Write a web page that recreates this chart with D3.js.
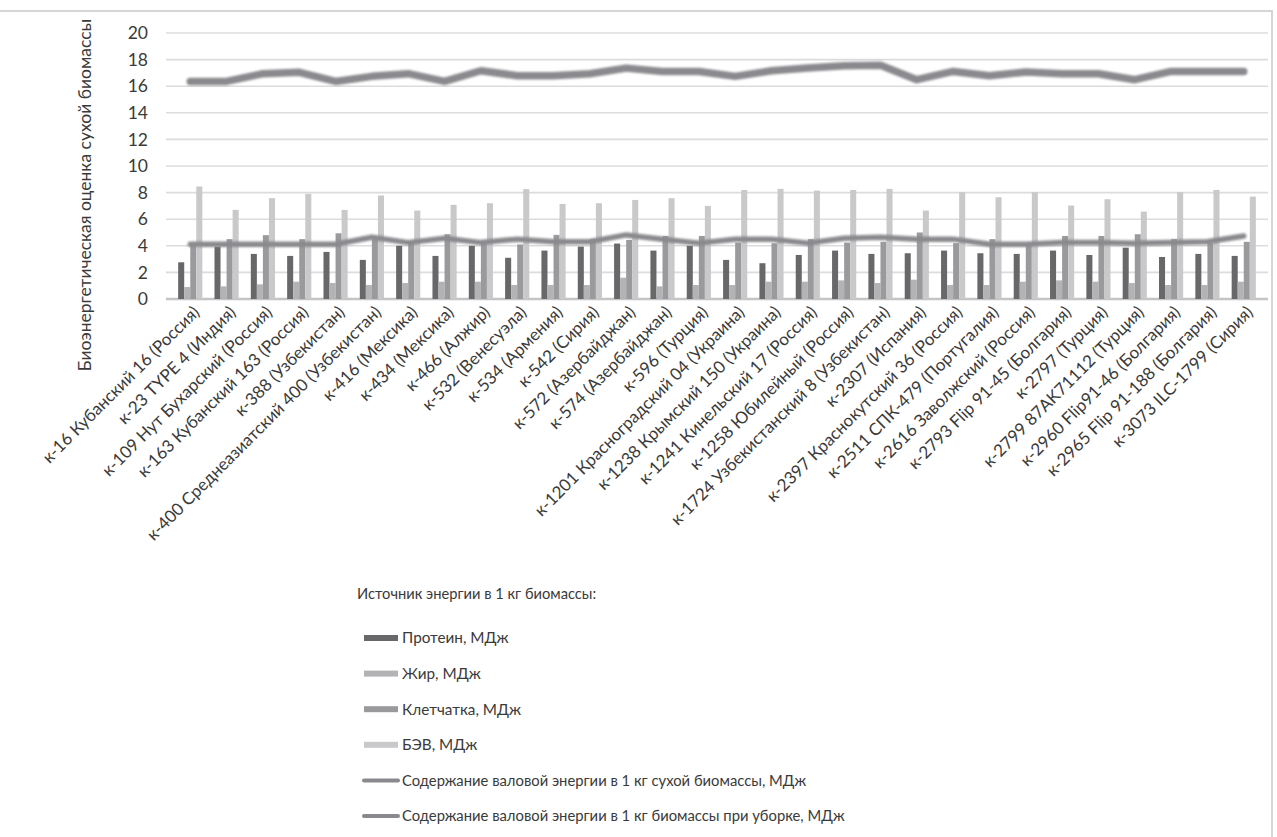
<!DOCTYPE html>
<html><head><meta charset="utf-8">
<script src="https://cdn.jsdelivr.net/npm/d3@7/dist/d3.min.js"></script>
<style>
html,body{margin:0;padding:0;background:#fff;}
svg{display:block;font-family:Lato,"Open Sans",sans-serif;}
</style></head>
<body>
<svg id="chart" width="1277" height="837"></svg>
<script>
const categories = [
 "к-16 Кубанский 16 (Россия)","к-23 TYPE 4 (Индия)","к-109 Нут Бухарский (Россия)","к-163 Кубанский 163 (Россия)",
 "к-388 (Узбекистан)","к-400 Среднеазиатский 400 (Узбекистан)","к-416 (Мексика)","к-434 (Мексика)",
 "к-466 (Алжир)","к-532 (Венесуэла)","к-534 (Армения)","к-542 (Сирия)","к-572 (Азербайджан)",
 "к-574 (Азербайджан)","к-596 (Турция)","к-1201 Красноградский 04 (Украина)","к-1238 Крымский 150 (Украина)",
 "к-1241 Кинельский 17 (Россия)","к-1258 Юбилейный (Россия)","к-1724 Узбекистанский 8 (Узбекистан)",
 "к-2307 (Испания)","к-2397 Краснокутский 36 (Россия)","к-2511 СПК-479 (Португалия)","к-2616 Заволжский (Россия)",
 "к-2793 Flip 91-45 (Болгария)","к-2797 (Турция)","к-2799 87AK71112 (Турция)","к-2960 Flip91-46 (Болгария)",
 "к-2965 Flip 91-188 (Болгария)","к-3073 ILC-1799 (Сирия)"];

const protein = [2.76,3.94,3.39,3.24,3.54,2.94,4.0,3.24,4.0,3.1,3.64,3.94,4.17,3.64,4.0,2.94,2.69,3.31,3.64,3.39,3.44,3.64,3.44,3.39,3.64,3.31,3.86,3.16,3.39,3.24];
const fat = [0.9,0.95,1.1,1.3,1.2,1.05,1.2,1.3,1.3,1.05,1.05,1.05,1.6,0.95,1.05,1.05,1.3,1.3,1.4,1.2,1.45,1.05,1.05,1.3,1.4,1.3,1.2,1.05,1.05,1.3];
const fiber = [4.2,4.5,4.8,4.5,4.94,4.5,4.3,4.87,4.2,4.1,4.82,4.5,4.44,4.74,4.74,4.24,4.19,4.5,4.24,4.3,5.0,4.2,4.5,4.1,4.74,4.74,4.87,4.5,4.2,4.3];
const nfe = [8.46,6.7,7.58,7.9,6.7,7.78,6.65,7.08,7.2,8.26,7.15,7.2,7.45,7.58,7.0,8.2,8.28,8.15,8.2,8.28,6.65,8.03,7.65,8.03,7.03,7.5,6.57,8.03,8.2,7.7];
const energyDry = [16.36,16.36,16.94,17.04,16.36,16.74,16.94,16.36,17.16,16.79,16.79,16.94,17.36,17.11,17.11,16.74,17.16,17.36,17.54,17.57,16.49,17.11,16.79,17.06,16.94,16.94,16.49,17.11,17.11,17.11];
const energyHarvest = [4.12,4.12,4.12,4.12,4.12,4.64,4.24,4.57,4.24,4.5,4.3,4.3,4.82,4.5,4.2,4.5,4.5,4.2,4.57,4.64,4.5,4.5,4.12,4.12,4.24,4.24,4.2,4.24,4.3,4.74];
const yTicks = [0,2,4,6,8,10,12,14,16,18,20];

const barSeries = [
 {name:"Протеин, МДж", values:protein, color:"#68686b"},
 {name:"Жир, МДж", values:fat, color:"#b3b3b6"},
 {name:"Клетчатка, МДж", values:fiber, color:"#9a9a9d"},
 {name:"БЭВ, МДж", values:nfe, color:"#c9c9cb"}
];
const lineSeries = [
 {name:"Содержание валовой энергии в 1 кг сухой биомассы, МДж", values:energyDry, color:"#8a8a8e", width:7.5},
 {name:"Содержание валовой энергии в 1 кг биомассы при уборке, МДж", values:energyHarvest, color:"#8a8a8e", width:5.5}
];

const svg = d3.select("#chart");
const plotL = 166, plotR = 1268, plotT = 33, plotB = 299;
const x = d3.scaleBand().domain(categories).range([plotL, plotR]).padding(0.335);
const xs = d3.scaleBand().domain(barSeries.map(d=>d.name)).range([0, x.bandwidth()]);
const y = d3.scaleLinear().domain([0,20]).range([plotB, plotT]);

// frame
svg.append("rect").attr("x",-2).attr("y",11).attr("width",1274).attr("height",840)
  .attr("fill","none").attr("stroke","#d6d6d6").attr("stroke-width",2);

const defs = svg.append("defs");
defs.append("filter").attr("id","soft").append("feGaussianBlur").attr("stdDeviation",0.7);
defs.append("filter").attr("id","softer").append("feGaussianBlur").attr("stdDeviation",1.0);

// grid
svg.append("g").selectAll("line").data(yTicks).join("line")
  .attr("x1",plotL).attr("x2",plotR).attr("y1",d=>y(d)).attr("y2",d=>y(d))
  .attr("stroke",d=>d===0?"#c4c4c6":"#dcdcdc").attr("stroke-width",d=>d===0?2.5:1.6);

// y axis labels
const yAxis = d3.axisLeft(y).tickValues(yTicks).tickSize(0).tickPadding(0);
const gy = svg.append("g").attr("transform",`translate(148,0)`).call(yAxis);
gy.select(".domain").remove();
gy.selectAll("text").attr("font-size",17.5).attr("fill","#3a3a3a").attr("font-family","Lato,sans-serif");

// bars
const gb = svg.append("g").attr("filter","url(#soft)");
barSeries.forEach(s=>{
  gb.append("g").selectAll("rect").data(categories).join("rect")
    .attr("x",(c)=>x(c)+xs(s.name))
    .attr("width",xs.bandwidth())
    .attr("y",(c,i)=>y(s.values[i]))
    .attr("height",(c,i)=>plotB - y(s.values[i]))
    .attr("fill",s.color);
});

// lines
const gl = svg.append("g").attr("filter","url(#softer)");
lineSeries.forEach(s=>{
  const line = d3.line().x((d,i)=>x(categories[i])+x.bandwidth()/2).y(d=>y(d));
  gl.append("path").datum(s.values).attr("d",line).attr("fill","none")
    .attr("stroke",s.color).attr("stroke-width",s.width)
    .attr("stroke-linejoin","round").attr("stroke-linecap","round");
});

// x labels
svg.append("g").selectAll("text").data(categories).join("text")
  .attr("transform",c=>`translate(${x(c)+x.bandwidth()/2+6},${plotB+10}) rotate(-45)`)
  .attr("text-anchor","end").attr("dy","0.35em")
  .attr("font-size",17).attr("fill","#3a3a3a").text(c=>c);

// y title
svg.append("text").attr("transform","translate(91,195) rotate(-90)")
  .attr("text-anchor","middle").attr("font-size",17.5).attr("fill","#3a3a3a")
  .text("Биоэнергетическая оценка сухой биомассы");

// legend
const lg = svg.append("g");
lg.append("text").attr("x",357).attr("y",599).attr("font-size",14.7).attr("fill","#3a3a3a")
  .text("Источник энергии в 1 кг биомассы:");
const rowY = i => 638 + i*35.6;
barSeries.forEach((s,i)=>{
  lg.append("rect").attr("x",364).attr("y",rowY(i)-3).attr("width",34).attr("height",6).attr("fill",s.color);
  lg.append("text").attr("x",402).attr("y",rowY(i)).attr("dy","0.35em").attr("font-size",15.3).attr("fill","#3a3a3a").text(s.name);
});
lineSeries.forEach((s,j)=>{
  const i = j+4;
  lg.append("line").attr("x1",364).attr("x2",398).attr("y1",rowY(i)).attr("y2",rowY(i))
    .attr("stroke",s.color).attr("stroke-width",4).attr("stroke-linecap","round");
  lg.append("text").attr("x",402).attr("y",rowY(i)).attr("dy","0.35em").attr("font-size",14.8).attr("fill","#3a3a3a").text(s.name);
});
</script>
</body></html>
